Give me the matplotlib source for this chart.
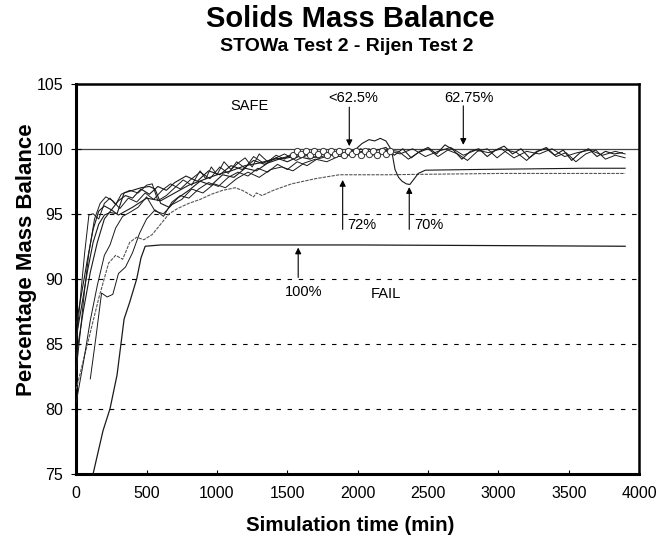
import matplotlib
matplotlib.use("Agg")
import matplotlib.pyplot as plt

plt.rcParams['font.family'] = ['Liberation Sans', 'DejaVu Sans']

# ---- data (time in min, mass balance in %) ----
# wiggly run 1 (the "62.75%" run)
t_w1 = [0, 40, 80, 120, 160, 200, 250, 300, 350, 400, 460, 520, 580, 640, 700, 780,
        860, 940, 1020, 1100, 1180, 1260, 1340, 1420, 1500, 1580, 1660, 1740, 1820, 1900, 1960,
        2020, 2080, 2140, 2200, 2260, 2320, 2380, 2440, 2500, 2560, 2620, 2680, 2740, 2800,
        2860, 2920, 2980, 3040, 3100, 3160, 3220, 3280, 3340, 3400, 3460, 3520, 3580, 3640,
        3700, 3760, 3820, 3880]
y_w1 = [86.5, 89.0, 91.5, 93.8, 95.2, 95.6, 95.3, 96.0, 96.4, 96.2, 96.9, 96.5, 97.1, 96.8,
        97.4, 97.9, 97.5, 98.3, 98.0, 98.7, 98.4, 99.1, 98.8, 99.3, 99.0, 99.4, 99.2, 99.6,
        99.5, 99.7, 99.6,
        100.0, 99.7, 99.9, 100.1, 99.5, 100.0, 99.3, 99.8, 100.1, 99.6, 100.3, 99.9, 99.2,
        99.8, 100.0, 99.4, 99.9, 100.2, 99.6, 100.0, 99.3, 99.8, 100.1, 99.5, 99.9, 99.1,
        99.7, 100.0, 99.4, 99.8, 99.6, 99.7]

# wiggly run 2
t_w2 = [0, 30, 60, 90, 130, 170, 210, 260, 310, 370, 430, 490, 550, 610, 670, 740, 810,
        880, 950, 1020, 1080, 1140, 1200, 1260, 1330, 1400, 1480, 1560, 1640, 1720, 1800,
        1870, 1940,
        2010, 2080, 2150, 2220, 2290, 2360, 2430, 2500, 2570, 2640, 2710, 2780, 2850, 2920,
        2990, 3060, 3130, 3200, 3270, 3340, 3410, 3480, 3550, 3620, 3690, 3760, 3830, 3900]
y_w2 = [83.0, 86.0, 89.2, 92.0, 94.6, 95.8, 96.3, 96.0, 95.4, 96.2, 95.9, 96.6, 96.1, 96.8,
        97.3, 96.9, 97.6, 98.2, 97.7, 98.6, 98.1, 99.0, 98.5, 99.4, 98.9, 99.2, 99.6, 99.1,
        99.5, 99.3, 99.6, 99.4, 99.7,
        99.7, 100.0, 99.5, 99.9, 99.8, 99.2, 99.7, 100.0, 99.4, 99.9, 99.6, 99.1, 99.8, 100.0,
        99.3, 99.9, 99.7, 99.1, 99.8, 100.0, 99.4, 99.7, 99.0, 99.6, 99.9, 99.2, 99.5, 99.3]

# wiggly run 3
t_w3 = [0, 50, 100, 150, 200, 240, 280, 330, 380, 440, 500, 560, 620, 680, 750, 820, 900,
        980, 1060, 1140, 1220, 1300, 1380, 1460, 1540, 1620, 1700, 1780, 1860, 1940,
        2030, 2120, 2210, 2300, 2390, 2480, 2570, 2660, 2750, 2840, 2930, 3020, 3110, 3200,
        3290, 3380, 3470, 3560, 3650, 3740, 3830, 3900]
y_w3 = [80.5, 83.5, 86.8, 89.5, 91.8, 92.6, 93.9, 94.8, 95.1, 95.5, 96.3, 95.2, 95.0, 95.7,
        96.1, 96.9, 96.6, 97.3, 97.0, 97.7, 98.2, 97.8, 98.4, 98.6, 98.3, 98.9, 99.2, 99.0,
        99.4, 99.5,
        99.8, 99.5, 99.9, 99.6, 100.0, 99.4, 99.8, 100.1, 99.5, 99.9, 99.7, 100.0, 99.3, 99.8,
        99.6, 100.0, 99.4, 99.7, 99.9, 99.5, 99.8, 99.6]

# "<62.5%" run: rising part, then the circle-marked part
t_c = [0, 40, 80, 120, 160, 200, 240, 290, 340, 400, 460, 520, 560, 600, 660, 720, 800,
       880, 960, 1040, 1120, 1200, 1280, 1360, 1440, 1500]
y_c = [85.5, 88.0, 90.6, 92.8, 94.2, 94.9, 95.1, 95.0, 96.6, 96.8, 97.0, 97.1, 96.9, 95.8,
       95.5, 96.2, 96.8, 97.5, 97.2, 98.0, 97.8, 98.5, 98.3, 98.9, 99.2, 99.4]
t_co = [1540, 1570, 1600, 1630, 1660, 1690, 1720, 1750, 1780, 1810, 1840, 1870, 1900,
        1930, 1960, 1990, 2020, 2050, 2080, 2110, 2140, 2170, 2200, 2230]
y_co = [99.5, 99.8, 99.6, 99.8, 99.5, 99.8, 99.6, 99.8, 99.5, 99.8, 99.6, 99.8, 99.5,
        99.8, 99.6, 99.8, 99.5, 99.8, 99.6, 99.8, 99.5, 99.8, 99.6, 99.8]

# "70%" run
t_70 = [0, 50, 100, 150, 200, 250, 300, 400, 500, 600, 700, 800, 900, 1000, 1100, 1200,
        1300, 1400, 1500, 1600, 1700, 1800, 1900, 1980, 2030, 2080, 2120, 2160, 2200, 2240,
        2265, 2290, 2315, 2345, 2370, 2395, 2430, 2480, 2800, 3200, 3600, 3900]
y_70 = [84.0, 87.5, 90.5, 92.8, 94.6, 95.3, 94.9, 95.5, 96.2, 96.0, 96.6, 97.2, 97.6, 98.0,
        98.3, 98.7, 98.9, 99.2, 99.3, 99.5, 99.6, 99.7, 99.7, 99.9, 100.4, 100.7, 100.6,
        100.8, 100.6, 99.9, 98.4, 97.8, 97.5, 97.3, 97.25, 97.6, 98.1, 98.35, 98.4, 98.45,
        98.5, 98.5]

# "72%" run
t_72 = [0, 80, 160, 230, 280, 330, 380, 430, 480, 540, 600, 660, 720, 800, 880, 960, 1040,
        1130, 1180, 1230, 1260, 1280, 1320, 1400, 1530, 1700, 1870, 2200, 2600, 3000, 3400,
        3900]
y_72 = [81.5, 85.0, 88.5, 91.2, 91.8, 91.5, 92.8, 93.2, 93.0, 93.4, 94.2, 95.0, 95.4, 95.8,
        96.1, 96.5, 96.8, 97.0, 96.8, 96.5, 96.3, 96.6, 96.4, 96.8, 97.3, 97.7, 98.0, 98.0,
        98.05, 98.1, 98.1, 98.1]

# run starting late
t_e = [100, 140, 180, 220, 260, 300, 350, 400, 450, 500, 560, 620, 680, 740, 800, 870, 940,
       1010, 1080, 1150, 1220, 1290, 1360, 1430, 1500, 1570, 1640, 1710, 1780]
y_e = [82.3, 85.5, 88.9, 88.6, 88.8, 90.4, 90.9, 92.0, 93.5, 94.6, 95.3, 94.8, 95.9, 96.4,
       96.2, 96.9, 97.4, 97.1, 97.8, 98.2, 97.9, 98.5, 98.2, 98.8, 98.4, 99.0, 98.7, 99.2, 99.4]

# spiky early run
t_f = [0, 30, 60, 90, 120, 160, 200, 240, 280, 320, 380, 440, 500, 540, 580, 640, 700, 760,
       820, 880, 920, 960, 1000, 1050, 1100, 1150, 1200, 1250, 1300, 1360, 1420, 1480, 1540,
       1600]
y_f = [85.0, 88.6, 92.0, 94.9, 95.0, 94.6, 95.8, 96.2, 95.7, 96.5, 96.8, 96.6, 97.2, 97.3,
       96.0, 96.4, 97.0, 97.6, 97.2, 98.3, 97.7, 98.6, 98.0, 99.0, 98.4, 98.9, 99.3, 98.6,
       99.6, 99.0, 99.5, 99.2, 99.7, 99.5]

# "100%" run
t_100 = [120, 190, 240, 290, 340, 380, 430, 460, 490, 600, 1000, 2000, 3000, 3900]
y_100 = [75.0, 78.3, 80.0, 82.6, 86.9, 88.2, 90.0, 91.6, 92.5, 92.6, 92.6, 92.6, 92.55, 92.5]

y_ticks = [75, 80, 85, 90, 95, 100, 105]
x_ticks = [0, 500, 1000, 1500, 2000, 2500, 3000, 3500, 4000]
dashed_levels = [80, 85, 90, 95]
safe_level = 100

fig = plt.figure(figsize=(6.64, 5.51), dpi=100)
ax = fig.add_axes([0.1148, 0.1402, 0.8479, 0.7078])

# reference lines
for lev in dashed_levels:
    ax.axhline(lev, color='black', lw=0.8, ls=(0, (4, 6)), zorder=1)
ax.axhline(safe_level, color='#444444', lw=0.9, zorder=1)

line_col = '#1a1a1a'
ax.plot(t_100, y_100, color=line_col, lw=0.9, zorder=3)
ax.plot(t_72, y_72, color='#555555', lw=0.8, ls=(0, (3, 1)), zorder=3)
ax.plot(t_e, y_e, color=line_col, lw=0.7, zorder=3)
ax.plot(t_f, y_f, color=line_col, lw=0.7, zorder=3)
ax.plot(t_w3, y_w3, color=line_col, lw=0.7, zorder=3)
ax.plot(t_w2, y_w2, color=line_col, lw=0.7, zorder=3)
ax.plot(t_70, y_70, color=line_col, lw=0.8, zorder=3)
ax.plot(t_w1, y_w1, color=line_col, lw=0.8, zorder=3)
ax.plot(t_c + t_co, y_c + y_co, color=line_col, lw=0.8, marker='o', ms=4.5,
        mfc='white', mec='#333333', mew=0.7, markevery=slice(len(t_c), None), zorder=4)

ax.set_xlim(0, 4000)
ax.set_ylim(75, 105)
ax.set_xticks(x_ticks)
ax.set_yticks(y_ticks)
ax.tick_params(axis='x', direction='in', length=3, labelsize=11.5, pad=9)
ax.tick_params(axis='y', direction='inout', length=7, labelsize=11.5, pad=6)

for side in ['left', 'bottom']:
    ax.spines[side].set_linewidth(2.2)
for side in ['top', 'right']:
    ax.spines[side].set_linewidth(1.8)

# annotations
arrow = dict(arrowstyle='-|>', lw=0.8, color='black', mutation_scale=9, shrinkA=0, shrinkB=0)
ax.text(1230, 103.3, 'SAFE', ha='center', va='center', fontsize=10.5)
ax.text(2201, 88.8, 'FAIL', ha='center', va='center', fontsize=10.5)
ax.text(1970, 103.9, '<62.5%', ha='center', va='center', fontsize=10.5)
ax.annotate('', xy=(1940, 100.2), xytext=(1940, 103.2), arrowprops=arrow)
ax.text(2790, 103.9, '62.75%', ha='center', va='center', fontsize=10.5)
ax.annotate('', xy=(2750, 100.3), xytext=(2750, 103.3), arrowprops=arrow)
ax.text(1925, 94.1, '72%', ha='left', va='center', fontsize=10.5)
ax.annotate('', xy=(1893, 97.6), xytext=(1893, 93.8), arrowprops=arrow)
ax.text(2400, 94.1, '70%', ha='left', va='center', fontsize=10.5)
ax.annotate('', xy=(2366, 97.05), xytext=(2366, 93.8), arrowprops=arrow)
ax.text(1613, 89.0, '100%', ha='center', va='center', fontsize=10.5)
ax.annotate('', xy=(1577, 92.4), xytext=(1577, 90.1), arrowprops=arrow)

fig.text(0.527, 0.965, 'Solids Mass Balance', ha='center', va='center',
         fontsize=21, fontweight='bold')
fig.text(0.522, 0.915, 'STOWa Test 2 - Rijen Test 2', ha='center', va='center',
         fontsize=14, fontweight='bold')
fig.text(0.527, 0.047, 'Simulation time (min)', ha='center', va='center',
         fontsize=14.8, fontweight='bold')
fig.text(0.040, 0.528, 'Percentage Mass Balance', ha='center', va='center',
         rotation=90, fontsize=16, fontweight='bold')

fig.savefig('out.png', dpi=100)
